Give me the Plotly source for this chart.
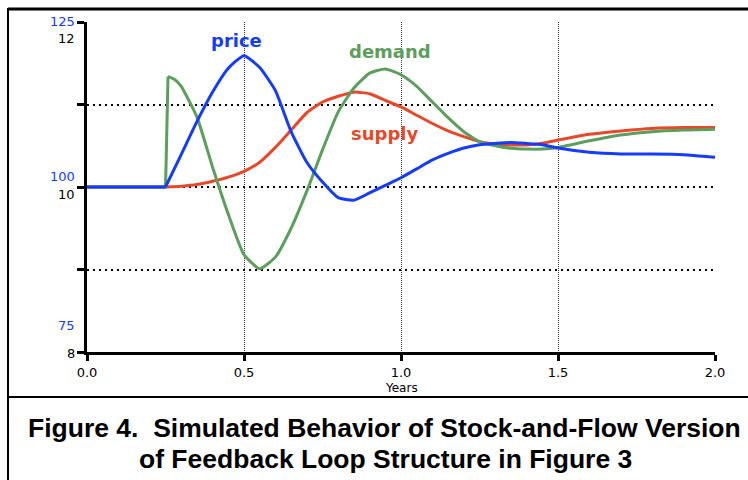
import plotly.graph_objects as go

# ---- data ----
years = [0.0, 0.25, 0.30, 0.35, 0.40, 0.45, 0.50, 0.55, 0.60, 0.65, 0.70, 0.75, 0.80,
         0.85, 0.90, 0.95, 1.00, 1.05, 1.10, 1.15, 1.20, 1.25, 1.30, 1.35, 1.40, 1.45,
         1.50, 1.60, 1.70, 1.80, 1.90, 2.00]

price = [100.0, 100.0, 104.9, 109.9, 114.4, 118.0, 119.9, 118.1, 114.6, 108.4, 103.75,
         100.75, 98.4, 98.0, 99.1, 100.25, 101.4, 102.75, 104.1, 105.1, 105.9, 106.4, 106.6,
         106.75, 106.6, 106.4, 105.9, 105.25, 105.0, 105.0, 104.9, 104.5]

supply = [10.0, 10.0, 10.01, 10.03, 10.07, 10.12, 10.19, 10.30, 10.48, 10.69, 10.90, 11.03,
          11.10, 11.15, 11.13, 11.05, 10.97, 10.87, 10.77, 10.68, 10.61, 10.55, 10.52, 10.51,
          10.51, 10.53, 10.57, 10.64, 10.68, 10.71, 10.72, 10.72]

demand_years = [0.0, 0.25, 0.252, 0.258, 0.28, 0.30, 0.35, 0.40, 0.45, 0.50, 0.55, 0.60,
                0.65, 0.70, 0.75, 0.80, 0.85, 0.90, 0.95, 1.00, 1.05, 1.10, 1.15, 1.20,
                1.25, 1.30, 1.35, 1.40, 1.45, 1.50, 1.60, 1.70, 1.80, 1.90, 2.00]
demand = [10.0, 10.0, 10.3, 11.34, 11.30, 11.22, 10.85, 10.24, 9.67, 9.18, 9.01, 9.15,
          9.5, 9.95, 10.45, 10.91, 11.2, 11.38, 11.43, 11.36, 11.22, 11.03, 10.84, 10.67,
          10.55, 10.50, 10.47, 10.46, 10.46, 10.48, 10.56, 10.63, 10.67, 10.69, 10.70]

x_ticks = [0.0, 0.5, 1.0, 1.5, 2.0]
x_tick_text = ["0.0", "0.5", "1.0", "1.5", "2.0"]
y_ticks = [8, 9, 10, 11, 12]
black_labels = [("12", 12, -16), ("10", 10, -7), ("8", 8, -1)]   # (text, value, pixel shift)
blue_labels = [("125", 125, 1), ("100", 100, 11), ("75", 75, 27)]

BLUE = "rgb(20,60,250)"
GREEN = "rgb(92,158,92)"
RED = "rgb(232,72,42)"
FONT = "DejaVu Sans"
SMOOTH = 0.5

fig = go.Figure()
# flat start (before 0.25) drawn straight, the response drawn smooth
fig.add_trace(go.Scatter(x=years[:2], y=price[:2], mode="lines", yaxis="y2",
                         line=dict(color=BLUE, width=3), name="price"))
fig.add_trace(go.Scatter(x=years[1:], y=price[1:], mode="lines", yaxis="y2",
                         line=dict(color=BLUE, width=3, shape="spline", smoothing=SMOOTH),
                         name="price"))
fig.add_trace(go.Scatter(x=years[:2], y=supply[:2], mode="lines",
                         line=dict(color=RED, width=3), name="supply"))
fig.add_trace(go.Scatter(x=years[1:], y=supply[1:], mode="lines",
                         line=dict(color=RED, width=3, shape="spline", smoothing=SMOOTH),
                         name="supply"))
fig.add_trace(go.Scatter(x=demand_years[:4], y=demand[:4], mode="lines",
                         line=dict(color=GREEN, width=3), name="demand"))
fig.add_trace(go.Scatter(x=demand_years[3:], y=demand[3:], mode="lines",
                         line=dict(color=GREEN, width=3, shape="spline", smoothing=SMOOTH),
                         name="demand"))

annotations = []
for txt, v, dy in black_labels:
    annotations.append(dict(x=-0.016, xref="paper", y=v, yref="y", text=txt, showarrow=False,
                            xanchor="right", yanchor="middle", yshift=dy,
                            font=dict(family=FONT, size=13, color="black")))
for txt, v, dy in blue_labels:
    annotations.append(dict(x=-0.016, xref="paper", y=v, yref="y2", text=txt, showarrow=False,
                            xanchor="right", yanchor="middle", yshift=dy,
                            font=dict(family=FONT, size=13, color=BLUE)))

CAP_FONT = dict(family="Liberation Sans, Arial", size=26.5, color="black")
annotations += [
    dict(x=0.475, y=11.77, xref="x", yref="y", text="<b>price</b>", showarrow=False,
         font=dict(family=FONT, size=18, color=BLUE)),
    dict(x=0.965, y=11.64, xref="x", yref="y", text="<b>demand</b>", showarrow=False,
         font=dict(family=FONT, size=18, color=GREEN)),
    dict(x=0.946, y=10.65, xref="x", yref="y", text="<b>supply</b>", showarrow=False,
         font=dict(family=FONT, size=18, color=RED)),
    dict(x=0.5, y=-0.11, xref="paper", yref="paper", text="Years", showarrow=False,
         xanchor="center", yanchor="middle",
         font=dict(family=FONT, size=12, color="black")),
    dict(x=(384 - 87) / 628, y=(352 - 428) / 330, xref="paper", yref="paper",
         text="<b>Figure 4.&nbsp; Simulated Behavior of Stock-and-Flow Version</b>",
         showarrow=False, xanchor="center", yanchor="middle", font=CAP_FONT),
    dict(x=(385 - 87) / 628, y=(352 - 459) / 330, xref="paper", yref="paper",
         text="<b>of Feedback Loop Structure in Figure 3</b>",
         showarrow=False, xanchor="center", yanchor="middle", font=CAP_FONT),
]

def px_x(p):
    return (p - 87) / 628

def px_y(p):
    return (352 - p) / 330

shapes = [
    dict(type="line", xref="paper", yref="paper", x0=px_x(8), x1=px_x(760), y0=px_y(9), y1=px_y(9),
         line=dict(color="black", width=3)),
    dict(type="line", xref="paper", yref="paper", x0=px_x(8), x1=px_x(8), y0=px_y(8), y1=px_y(490),
         line=dict(color="black", width=2)),
    dict(type="line", xref="paper", yref="paper", x0=px_x(8), x1=px_x(760), y0=px_y(397), y1=px_y(397),
         line=dict(color="black", width=2)),
]

fig.update_layout(
    width=748, height=480,
    margin=dict(l=87, r=33, t=22, b=128),
    paper_bgcolor="white", plot_bgcolor="white",
    showlegend=False,
    xaxis=dict(range=[0, 2.0], tickvals=x_ticks, ticktext=x_tick_text,
               showline=True, linecolor="black", linewidth=3,
               ticks="outside", ticklen=6, tickwidth=2.5, tickcolor="black",
               showgrid=True, gridcolor="rgb(60,60,60)", gridwidth=1, griddash="1px,1px",
               zeroline=False, tickfont=dict(family=FONT, size=13, color="black")),
    yaxis=dict(range=[8, 12], tickvals=y_ticks, showticklabels=False,
               showline=True, linecolor="black", linewidth=3,
               ticks="outside", ticklen=7, tickwidth=2.5, tickcolor="black",
               showgrid=True, gridcolor="black", gridwidth=2, griddash="2px,4px",
               zeroline=False),
    yaxis2=dict(range=[75, 125], overlaying="y", side="left", showticklabels=False,
                showgrid=False, zeroline=False, showline=False, ticks=""),
    annotations=annotations,
    shapes=shapes,
)

fig.write_html("out.html", config={"displayModeBar": False},
               post_script="document.body.style.margin='0px';")
